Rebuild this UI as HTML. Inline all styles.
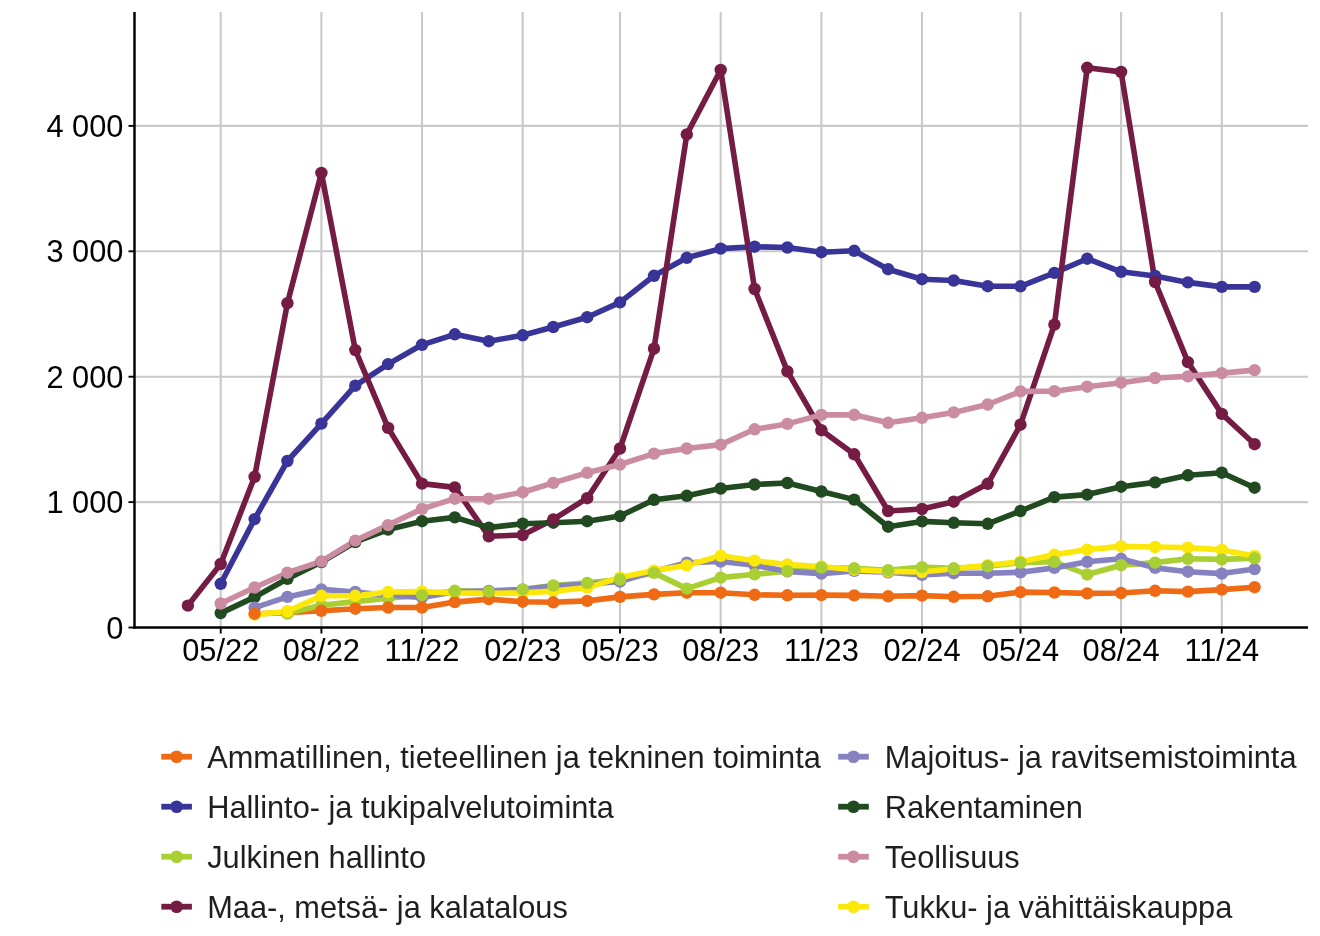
<!DOCTYPE html>
<html lang="fi"><head><meta charset="utf-8"><title>Kaavio</title>
<style>html,body{margin:0;padding:0;background:#fff}svg{display:block}</style></head>
<body>
<svg width="1320" height="936" viewBox="0 0 1320 936">
<rect width="1320" height="936" fill="#fff"/>
<g stroke="#c9c9c9" stroke-width="2.1" fill="none">
<line x1="134.5" y1="502.10" x2="1308" y2="502.10"/>
<line x1="134.5" y1="376.70" x2="1308" y2="376.70"/>
<line x1="134.5" y1="251.30" x2="1308" y2="251.30"/>
<line x1="134.5" y1="125.90" x2="1308" y2="125.90"/>
<line x1="220.7" y1="12" x2="220.7" y2="627.5"/>
<line x1="321.4" y1="12" x2="321.4" y2="627.5"/>
<line x1="422.0" y1="12" x2="422.0" y2="627.5"/>
<line x1="522.7" y1="12" x2="522.7" y2="627.5"/>
<line x1="620.0" y1="12" x2="620.0" y2="627.5"/>
<line x1="720.7" y1="12" x2="720.7" y2="627.5"/>
<line x1="821.4" y1="12" x2="821.4" y2="627.5"/>
<line x1="922.0" y1="12" x2="922.0" y2="627.5"/>
<line x1="1020.5" y1="12" x2="1020.5" y2="627.5"/>
<line x1="1121.1" y1="12" x2="1121.1" y2="627.5"/>
<line x1="1221.8" y1="12" x2="1221.8" y2="627.5"/>
</g>
<g fill="none" stroke-width="5.6" stroke-linejoin="round" stroke-linecap="butt">
<polyline stroke="#ee6a14" points="254.6,613.7 287.4,612.8 321.4,610.8 355.3,608.7 388.1,607.5 422.0,607.5 454.8,602.1 488.8,599.1 522.7,601.7 553.3,602.3 587.2,600.9 620.0,596.9 654.0,594.4 686.8,592.7 720.7,592.7 754.6,594.8 787.4,595.3 821.4,595.1 854.2,595.4 888.1,596.3 922.0,595.6 953.7,596.8 987.7,596.3 1020.5,592.1 1054.4,592.5 1087.2,593.4 1121.1,593.0 1155.1,590.8 1187.9,591.6 1221.8,589.6 1254.6,587.2"/>
<polyline stroke="#393598" points="220.7,583.8 254.6,519.1 287.4,461.0 321.4,423.6 355.3,385.7 388.1,364.1 422.0,344.8 454.8,334.3 488.8,341.2 522.7,335.3 553.3,327.0 587.2,317.2 620.0,302.4 654.0,275.8 686.8,257.8 720.7,248.6 754.6,246.7 787.4,247.5 821.4,252.2 854.2,250.8 888.1,269.2 922.0,279.2 953.7,280.5 987.7,286.2 1020.5,286.3 1054.4,272.9 1087.2,258.7 1121.1,271.8 1155.1,276.0 1187.9,282.4 1221.8,286.9 1254.6,286.9"/>
<polyline stroke="#a9cf33" points="287.4,613.4 321.4,605.3 355.3,601.6 388.1,598.3 422.0,595.1 454.8,590.8 488.8,591.6 522.7,589.4 553.3,585.5 587.2,582.9 620.0,579.5 654.0,572.9 686.8,588.6 720.7,577.6 754.6,574.3 787.4,571.1 821.4,567.5 854.2,568.3 888.1,570.2 922.0,567.1 953.7,568.3 987.7,566.2 1020.5,562.7 1054.4,561.8 1087.2,574.5 1121.1,565.2 1155.1,562.6 1187.9,558.8 1221.8,559.4 1254.6,558.3"/>
<polyline stroke="#741c44" points="187.9,605.6 220.7,564.0 254.6,476.8 287.4,303.2 321.4,172.9 355.3,350.1 388.1,427.9 422.0,483.6 454.8,487.4 488.8,536.3 522.7,535.0 553.3,519.4 587.2,498.2 620.0,448.5 654.0,348.7 686.8,134.4 720.7,70.0 754.6,289.0 787.4,371.4 821.4,430.2 854.2,454.3 888.1,511.0 922.0,509.0 953.7,501.7 987.7,483.8 1020.5,424.7 1054.4,324.6 1087.2,67.8 1121.1,71.9 1155.1,282.0 1187.9,362.1 1221.8,413.9 1254.6,444.2"/>
<polyline stroke="#8682c0" points="254.6,607.7 287.4,596.9 321.4,589.4 355.3,592.0 388.1,595.3 422.0,597.4 454.8,591.8 488.8,590.9 522.7,589.6 553.3,586.1 587.2,584.3 620.0,581.5 654.0,571.4 686.8,562.7 720.7,561.5 754.6,565.3 787.4,571.4 821.4,573.6 854.2,570.9 888.1,572.3 922.0,574.9 953.7,573.2 987.7,573.2 1020.5,572.3 1054.4,567.9 1087.2,561.8 1121.1,558.8 1155.1,567.9 1187.9,571.7 1221.8,573.6 1254.6,569.1"/>
<polyline stroke="#214a20" points="220.7,613.1 254.6,597.1 287.4,578.8 321.4,562.0 355.3,542.0 388.1,529.6 422.0,521.2 454.8,517.4 488.8,527.6 522.7,523.7 553.3,522.7 587.2,521.2 620.0,516.1 654.0,499.8 686.8,495.8 720.7,488.5 754.6,484.5 787.4,483.0 821.4,491.5 854.2,499.6 888.1,526.7 922.0,521.4 953.7,522.8 987.7,523.8 1020.5,511.0 1054.4,497.1 1087.2,494.6 1121.1,486.7 1155.1,482.4 1187.9,475.3 1221.8,472.7 1254.6,487.7"/>
<polyline stroke="#cb8ca2" points="220.7,603.5 254.6,587.5 287.4,572.7 321.4,561.4 355.3,540.6 388.1,525.1 422.0,508.9 454.8,498.7 488.8,498.7 522.7,492.2 553.3,482.9 587.2,472.8 620.0,464.5 654.0,453.6 686.8,448.5 720.7,444.6 754.6,429.3 787.4,423.9 821.4,414.9 854.2,414.8 888.1,422.8 922.0,417.8 953.7,412.4 987.7,404.5 1020.5,391.4 1054.4,391.2 1087.2,386.7 1121.1,382.7 1155.1,378.0 1187.9,376.4 1221.8,373.1 1254.6,370.1"/>
<polyline stroke="#fbe808" points="254.6,614.6 287.4,611.5 321.4,595.8 355.3,595.8 388.1,592.0 422.0,591.6 454.8,592.9 488.8,593.4 522.7,592.9 553.3,591.1 587.2,587.6 620.0,577.6 654.0,570.6 686.8,565.4 720.7,555.8 754.6,560.7 787.4,564.5 821.4,566.5 854.2,569.7 888.1,571.4 922.0,572.0 953.7,568.8 987.7,565.3 1020.5,561.7 1054.4,554.8 1087.2,549.6 1121.1,546.4 1155.1,547.0 1187.9,547.6 1221.8,549.9 1254.6,556.0"/>
</g>
<g fill="#393598"><circle cx="220.7" cy="583.8" r="6.2"/><circle cx="254.6" cy="519.1" r="6.2"/><circle cx="287.4" cy="461.0" r="6.2"/><circle cx="321.4" cy="423.6" r="6.2"/><circle cx="355.3" cy="385.7" r="6.2"/><circle cx="388.1" cy="364.1" r="6.2"/><circle cx="422.0" cy="344.8" r="6.2"/><circle cx="454.8" cy="334.3" r="6.2"/><circle cx="488.8" cy="341.2" r="6.2"/><circle cx="522.7" cy="335.3" r="6.2"/><circle cx="553.3" cy="327.0" r="6.2"/><circle cx="587.2" cy="317.2" r="6.2"/><circle cx="620.0" cy="302.4" r="6.2"/><circle cx="654.0" cy="275.8" r="6.2"/><circle cx="686.8" cy="257.8" r="6.2"/><circle cx="720.7" cy="248.6" r="6.2"/><circle cx="754.6" cy="246.7" r="6.2"/><circle cx="787.4" cy="247.5" r="6.2"/><circle cx="821.4" cy="252.2" r="6.2"/><circle cx="854.2" cy="250.8" r="6.2"/><circle cx="888.1" cy="269.2" r="6.2"/><circle cx="922.0" cy="279.2" r="6.2"/><circle cx="953.7" cy="280.5" r="6.2"/><circle cx="987.7" cy="286.2" r="6.2"/><circle cx="1020.5" cy="286.3" r="6.2"/><circle cx="1054.4" cy="272.9" r="6.2"/><circle cx="1087.2" cy="258.7" r="6.2"/><circle cx="1121.1" cy="271.8" r="6.2"/><circle cx="1155.1" cy="276.0" r="6.2"/><circle cx="1187.9" cy="282.4" r="6.2"/><circle cx="1221.8" cy="286.9" r="6.2"/><circle cx="1254.6" cy="286.9" r="6.2"/></g>
<g fill="#214a20"><circle cx="220.7" cy="613.1" r="6.2"/><circle cx="254.6" cy="597.1" r="6.2"/><circle cx="287.4" cy="578.8" r="6.2"/><circle cx="321.4" cy="562.0" r="6.2"/><circle cx="355.3" cy="542.0" r="6.2"/><circle cx="388.1" cy="529.6" r="6.2"/><circle cx="422.0" cy="521.2" r="6.2"/><circle cx="454.8" cy="517.4" r="6.2"/><circle cx="488.8" cy="527.6" r="6.2"/><circle cx="522.7" cy="523.7" r="6.2"/><circle cx="553.3" cy="522.7" r="6.2"/><circle cx="587.2" cy="521.2" r="6.2"/><circle cx="620.0" cy="516.1" r="6.2"/><circle cx="654.0" cy="499.8" r="6.2"/><circle cx="686.8" cy="495.8" r="6.2"/><circle cx="720.7" cy="488.5" r="6.2"/><circle cx="754.6" cy="484.5" r="6.2"/><circle cx="787.4" cy="483.0" r="6.2"/><circle cx="821.4" cy="491.5" r="6.2"/><circle cx="854.2" cy="499.6" r="6.2"/><circle cx="888.1" cy="526.7" r="6.2"/><circle cx="922.0" cy="521.4" r="6.2"/><circle cx="953.7" cy="522.8" r="6.2"/><circle cx="987.7" cy="523.8" r="6.2"/><circle cx="1020.5" cy="511.0" r="6.2"/><circle cx="1054.4" cy="497.1" r="6.2"/><circle cx="1087.2" cy="494.6" r="6.2"/><circle cx="1121.1" cy="486.7" r="6.2"/><circle cx="1155.1" cy="482.4" r="6.2"/><circle cx="1187.9" cy="475.3" r="6.2"/><circle cx="1221.8" cy="472.7" r="6.2"/><circle cx="1254.6" cy="487.7" r="6.2"/></g>
<g fill="#741c44"><circle cx="187.9" cy="605.6" r="6.2"/><circle cx="220.7" cy="564.0" r="6.2"/><circle cx="254.6" cy="476.8" r="6.2"/><circle cx="287.4" cy="303.2" r="6.2"/><circle cx="321.4" cy="172.9" r="6.2"/><circle cx="355.3" cy="350.1" r="6.2"/><circle cx="388.1" cy="427.9" r="6.2"/><circle cx="422.0" cy="483.6" r="6.2"/><circle cx="454.8" cy="487.4" r="6.2"/><circle cx="488.8" cy="536.3" r="6.2"/><circle cx="522.7" cy="535.0" r="6.2"/><circle cx="553.3" cy="519.4" r="6.2"/><circle cx="587.2" cy="498.2" r="6.2"/><circle cx="620.0" cy="448.5" r="6.2"/><circle cx="654.0" cy="348.7" r="6.2"/><circle cx="686.8" cy="134.4" r="6.2"/><circle cx="720.7" cy="70.0" r="6.2"/><circle cx="754.6" cy="289.0" r="6.2"/><circle cx="787.4" cy="371.4" r="6.2"/><circle cx="821.4" cy="430.2" r="6.2"/><circle cx="854.2" cy="454.3" r="6.2"/><circle cx="888.1" cy="511.0" r="6.2"/><circle cx="922.0" cy="509.0" r="6.2"/><circle cx="953.7" cy="501.7" r="6.2"/><circle cx="987.7" cy="483.8" r="6.2"/><circle cx="1020.5" cy="424.7" r="6.2"/><circle cx="1054.4" cy="324.6" r="6.2"/><circle cx="1087.2" cy="67.8" r="6.2"/><circle cx="1121.1" cy="71.9" r="6.2"/><circle cx="1155.1" cy="282.0" r="6.2"/><circle cx="1187.9" cy="362.1" r="6.2"/><circle cx="1221.8" cy="413.9" r="6.2"/><circle cx="1254.6" cy="444.2" r="6.2"/></g>
<g fill="#cb8ca2"><circle cx="220.7" cy="603.5" r="6.2"/><circle cx="254.6" cy="587.5" r="6.2"/><circle cx="287.4" cy="572.7" r="6.2"/><circle cx="321.4" cy="561.4" r="6.2"/><circle cx="355.3" cy="540.6" r="6.2"/><circle cx="388.1" cy="525.1" r="6.2"/><circle cx="422.0" cy="508.9" r="6.2"/><circle cx="454.8" cy="498.7" r="6.2"/><circle cx="488.8" cy="498.7" r="6.2"/><circle cx="522.7" cy="492.2" r="6.2"/><circle cx="553.3" cy="482.9" r="6.2"/><circle cx="587.2" cy="472.8" r="6.2"/><circle cx="620.0" cy="464.5" r="6.2"/><circle cx="654.0" cy="453.6" r="6.2"/><circle cx="686.8" cy="448.5" r="6.2"/><circle cx="720.7" cy="444.6" r="6.2"/><circle cx="754.6" cy="429.3" r="6.2"/><circle cx="787.4" cy="423.9" r="6.2"/><circle cx="821.4" cy="414.9" r="6.2"/><circle cx="854.2" cy="414.8" r="6.2"/><circle cx="888.1" cy="422.8" r="6.2"/><circle cx="922.0" cy="417.8" r="6.2"/><circle cx="953.7" cy="412.4" r="6.2"/><circle cx="987.7" cy="404.5" r="6.2"/><circle cx="1020.5" cy="391.4" r="6.2"/><circle cx="1054.4" cy="391.2" r="6.2"/><circle cx="1087.2" cy="386.7" r="6.2"/><circle cx="1121.1" cy="382.7" r="6.2"/><circle cx="1155.1" cy="378.0" r="6.2"/><circle cx="1187.9" cy="376.4" r="6.2"/><circle cx="1221.8" cy="373.1" r="6.2"/><circle cx="1254.6" cy="370.1" r="6.2"/></g>
<g fill="#8682c0"><circle cx="254.6" cy="607.7" r="6.2"/><circle cx="287.4" cy="596.9" r="6.2"/><circle cx="321.4" cy="589.4" r="6.2"/><circle cx="355.3" cy="592.0" r="6.2"/><circle cx="388.1" cy="595.3" r="6.2"/><circle cx="422.0" cy="597.4" r="6.2"/><circle cx="454.8" cy="591.8" r="6.2"/><circle cx="488.8" cy="590.9" r="6.2"/><circle cx="522.7" cy="589.6" r="6.2"/><circle cx="553.3" cy="586.1" r="6.2"/><circle cx="587.2" cy="584.3" r="6.2"/><circle cx="620.0" cy="581.5" r="6.2"/><circle cx="654.0" cy="571.4" r="6.2"/><circle cx="686.8" cy="562.7" r="6.2"/><circle cx="720.7" cy="561.5" r="6.2"/><circle cx="754.6" cy="565.3" r="6.2"/><circle cx="787.4" cy="571.4" r="6.2"/><circle cx="821.4" cy="573.6" r="6.2"/><circle cx="854.2" cy="570.9" r="6.2"/><circle cx="888.1" cy="572.3" r="6.2"/><circle cx="922.0" cy="574.9" r="6.2"/><circle cx="953.7" cy="573.2" r="6.2"/><circle cx="987.7" cy="573.2" r="6.2"/><circle cx="1020.5" cy="572.3" r="6.2"/><circle cx="1054.4" cy="567.9" r="6.2"/><circle cx="1087.2" cy="561.8" r="6.2"/><circle cx="1121.1" cy="558.8" r="6.2"/><circle cx="1155.1" cy="567.9" r="6.2"/><circle cx="1187.9" cy="571.7" r="6.2"/><circle cx="1221.8" cy="573.6" r="6.2"/><circle cx="1254.6" cy="569.1" r="6.2"/></g>
<g fill="#a9cf33"><circle cx="287.4" cy="613.4" r="6.2"/><circle cx="321.4" cy="605.3" r="6.2"/><circle cx="355.3" cy="601.6" r="6.2"/><circle cx="388.1" cy="598.3" r="6.2"/></g>
<g fill="#fbe808"><circle cx="254.6" cy="614.6" r="6.2"/><circle cx="287.4" cy="611.5" r="6.2"/><circle cx="321.4" cy="595.8" r="6.2"/><circle cx="355.3" cy="595.8" r="6.2"/><circle cx="388.1" cy="592.0" r="6.2"/><circle cx="422.0" cy="591.6" r="6.2"/><circle cx="454.8" cy="592.9" r="6.2"/><circle cx="488.8" cy="593.4" r="6.2"/><circle cx="522.7" cy="592.9" r="6.2"/><circle cx="553.3" cy="591.1" r="6.2"/><circle cx="587.2" cy="587.6" r="6.2"/><circle cx="620.0" cy="577.6" r="6.2"/><circle cx="654.0" cy="570.6" r="6.2"/><circle cx="686.8" cy="565.4" r="6.2"/><circle cx="720.7" cy="555.8" r="6.2"/><circle cx="754.6" cy="560.7" r="6.2"/><circle cx="787.4" cy="564.5" r="6.2"/><circle cx="821.4" cy="566.5" r="6.2"/><circle cx="854.2" cy="569.7" r="6.2"/><circle cx="888.1" cy="571.4" r="6.2"/><circle cx="922.0" cy="572.0" r="6.2"/><circle cx="953.7" cy="568.8" r="6.2"/><circle cx="987.7" cy="565.3" r="6.2"/><circle cx="1020.5" cy="561.7" r="6.2"/><circle cx="1054.4" cy="554.8" r="6.2"/><circle cx="1087.2" cy="549.6" r="6.2"/><circle cx="1121.1" cy="546.4" r="6.2"/><circle cx="1155.1" cy="547.0" r="6.2"/><circle cx="1187.9" cy="547.6" r="6.2"/><circle cx="1221.8" cy="549.9" r="6.2"/><circle cx="1254.6" cy="556.0" r="6.2"/></g>
<g fill="#ee6a14"><circle cx="254.6" cy="613.7" r="6.2"/><circle cx="287.4" cy="612.8" r="6.2"/><circle cx="321.4" cy="610.8" r="6.2"/><circle cx="355.3" cy="608.7" r="6.2"/><circle cx="388.1" cy="607.5" r="6.2"/><circle cx="422.0" cy="607.5" r="6.2"/><circle cx="454.8" cy="602.1" r="6.2"/><circle cx="488.8" cy="599.1" r="6.2"/><circle cx="522.7" cy="601.7" r="6.2"/><circle cx="553.3" cy="602.3" r="6.2"/><circle cx="587.2" cy="600.9" r="6.2"/><circle cx="620.0" cy="596.9" r="6.2"/><circle cx="654.0" cy="594.4" r="6.2"/><circle cx="686.8" cy="592.7" r="6.2"/><circle cx="720.7" cy="592.7" r="6.2"/><circle cx="754.6" cy="594.8" r="6.2"/><circle cx="787.4" cy="595.3" r="6.2"/><circle cx="821.4" cy="595.1" r="6.2"/><circle cx="854.2" cy="595.4" r="6.2"/><circle cx="888.1" cy="596.3" r="6.2"/><circle cx="922.0" cy="595.6" r="6.2"/><circle cx="953.7" cy="596.8" r="6.2"/><circle cx="987.7" cy="596.3" r="6.2"/><circle cx="1020.5" cy="592.1" r="6.2"/><circle cx="1054.4" cy="592.5" r="6.2"/><circle cx="1087.2" cy="593.4" r="6.2"/><circle cx="1121.1" cy="593.0" r="6.2"/><circle cx="1155.1" cy="590.8" r="6.2"/><circle cx="1187.9" cy="591.6" r="6.2"/><circle cx="1221.8" cy="589.6" r="6.2"/><circle cx="1254.6" cy="587.2" r="6.2"/></g>
<g fill="#a9cf33"><circle cx="287.4" cy="613.4" r="6.2"/></g>
<g fill="#fbe808"><circle cx="287.4" cy="611.5" r="6.2"/></g>
<g fill="#a9cf33"><circle cx="422.0" cy="595.1" r="6.2"/><circle cx="454.8" cy="590.8" r="6.2"/><circle cx="488.8" cy="591.6" r="6.2"/><circle cx="522.7" cy="589.4" r="6.2"/><circle cx="553.3" cy="585.5" r="6.2"/><circle cx="587.2" cy="582.9" r="6.2"/><circle cx="620.0" cy="579.5" r="6.2"/><circle cx="654.0" cy="572.9" r="6.2"/><circle cx="686.8" cy="588.6" r="6.2"/><circle cx="720.7" cy="577.6" r="6.2"/><circle cx="754.6" cy="574.3" r="6.2"/><circle cx="787.4" cy="571.1" r="6.2"/><circle cx="821.4" cy="567.5" r="6.2"/><circle cx="854.2" cy="568.3" r="6.2"/><circle cx="888.1" cy="570.2" r="6.2"/><circle cx="922.0" cy="567.1" r="6.2"/><circle cx="953.7" cy="568.3" r="6.2"/><circle cx="987.7" cy="566.2" r="6.2"/><circle cx="1020.5" cy="562.7" r="6.2"/><circle cx="1054.4" cy="561.8" r="6.2"/><circle cx="1087.2" cy="574.5" r="6.2"/><circle cx="1121.1" cy="565.2" r="6.2"/><circle cx="1155.1" cy="562.6" r="6.2"/><circle cx="1187.9" cy="558.8" r="6.2"/><circle cx="1221.8" cy="559.4" r="6.2"/><circle cx="1254.6" cy="558.3" r="6.2"/></g>
<g stroke="#000" fill="none">
<line x1="134.5" y1="12" x2="134.5" y2="628.7" stroke-width="2.45"/>
<line x1="133.3" y1="627.5" x2="1308" y2="627.5" stroke-width="2.45"/>
<line x1="128.5" y1="627.50" x2="134.5" y2="627.50" stroke-width="1.9"/>
<line x1="128.5" y1="502.10" x2="134.5" y2="502.10" stroke-width="1.9"/>
<line x1="128.5" y1="376.70" x2="134.5" y2="376.70" stroke-width="1.9"/>
<line x1="128.5" y1="251.30" x2="134.5" y2="251.30" stroke-width="1.9"/>
<line x1="128.5" y1="125.90" x2="134.5" y2="125.90" stroke-width="1.9"/>
<line x1="220.7" y1="627.5" x2="220.7" y2="633.5" stroke-width="1.9"/>
<line x1="321.4" y1="627.5" x2="321.4" y2="633.5" stroke-width="1.9"/>
<line x1="422.0" y1="627.5" x2="422.0" y2="633.5" stroke-width="1.9"/>
<line x1="522.7" y1="627.5" x2="522.7" y2="633.5" stroke-width="1.9"/>
<line x1="620.0" y1="627.5" x2="620.0" y2="633.5" stroke-width="1.9"/>
<line x1="720.7" y1="627.5" x2="720.7" y2="633.5" stroke-width="1.9"/>
<line x1="821.4" y1="627.5" x2="821.4" y2="633.5" stroke-width="1.9"/>
<line x1="922.0" y1="627.5" x2="922.0" y2="633.5" stroke-width="1.9"/>
<line x1="1020.5" y1="627.5" x2="1020.5" y2="633.5" stroke-width="1.9"/>
<line x1="1121.1" y1="627.5" x2="1121.1" y2="633.5" stroke-width="1.9"/>
<line x1="1221.8" y1="627.5" x2="1221.8" y2="633.5" stroke-width="1.9"/>
</g>
<g font-family="'Liberation Sans', Arial, sans-serif" font-size="30.8" fill="#000">
<text x="123.5" y="638.50" text-anchor="end">0</text>
<text x="123.5" y="513.10" text-anchor="end">1 000</text>
<text x="123.5" y="387.70" text-anchor="end">2 000</text>
<text x="123.5" y="262.30" text-anchor="end">3 000</text>
<text x="123.5" y="136.90" text-anchor="end">4 000</text>
<text x="220.7" y="660.6" text-anchor="middle">05/22</text>
<text x="321.4" y="660.6" text-anchor="middle">08/22</text>
<text x="422.0" y="660.6" text-anchor="middle">11/22</text>
<text x="522.7" y="660.6" text-anchor="middle">02/23</text>
<text x="620.0" y="660.6" text-anchor="middle">05/23</text>
<text x="720.7" y="660.6" text-anchor="middle">08/23</text>
<text x="821.4" y="660.6" text-anchor="middle">11/23</text>
<text x="922.0" y="660.6" text-anchor="middle">02/24</text>
<text x="1020.5" y="660.6" text-anchor="middle">05/24</text>
<text x="1121.1" y="660.6" text-anchor="middle">08/24</text>
<text x="1221.8" y="660.6" text-anchor="middle">11/24</text>
</g>
<g font-family="'Liberation Sans', Arial, sans-serif" font-size="30.75" fill="#1f1f1f">
<line x1="161.3" y1="756.7" x2="191.9" y2="756.7" stroke="#ee6a14" stroke-width="5.8"/>
<circle cx="176.60000000000002" cy="756.7" r="6.3" fill="#ee6a14"/>
<text x="207.2" y="767.6">Ammatillinen, tieteellinen ja tekninen toiminta</text>
<line x1="161.3" y1="806.7" x2="191.9" y2="806.7" stroke="#393598" stroke-width="5.8"/>
<circle cx="176.60000000000002" cy="806.7" r="6.3" fill="#393598"/>
<text x="207.2" y="817.6">Hallinto- ja tukipalvelutoiminta</text>
<line x1="161.3" y1="856.7" x2="191.9" y2="856.7" stroke="#a9cf33" stroke-width="5.8"/>
<circle cx="176.60000000000002" cy="856.7" r="6.3" fill="#a9cf33"/>
<text x="207.2" y="867.6">Julkinen hallinto</text>
<line x1="161.3" y1="906.7" x2="191.9" y2="906.7" stroke="#741c44" stroke-width="5.8"/>
<circle cx="176.60000000000002" cy="906.7" r="6.3" fill="#741c44"/>
<text x="207.2" y="917.6">Maa-, metsä- ja kalatalous</text>
<line x1="838.2" y1="756.7" x2="868.8000000000001" y2="756.7" stroke="#8682c0" stroke-width="5.8"/>
<circle cx="853.5" cy="756.7" r="6.3" fill="#8682c0"/>
<text x="884.7" y="767.6">Majoitus- ja ravitsemistoiminta</text>
<line x1="838.2" y1="806.7" x2="868.8000000000001" y2="806.7" stroke="#214a20" stroke-width="5.8"/>
<circle cx="853.5" cy="806.7" r="6.3" fill="#214a20"/>
<text x="884.7" y="817.6">Rakentaminen</text>
<line x1="838.2" y1="856.7" x2="868.8000000000001" y2="856.7" stroke="#cb8ca2" stroke-width="5.8"/>
<circle cx="853.5" cy="856.7" r="6.3" fill="#cb8ca2"/>
<text x="884.7" y="867.6">Teollisuus</text>
<line x1="838.2" y1="906.7" x2="868.8000000000001" y2="906.7" stroke="#fbe808" stroke-width="5.8"/>
<circle cx="853.5" cy="906.7" r="6.3" fill="#fbe808"/>
<text x="884.7" y="917.6">Tukku- ja vähittäiskauppa</text>
</g>
</svg>
</body></html>
